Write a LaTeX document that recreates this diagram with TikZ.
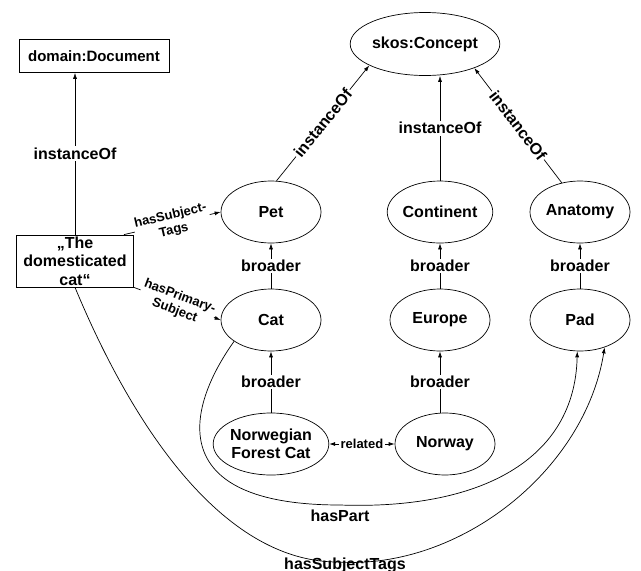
\documentclass[tikz,border=0pt]{standalone}
\usepackage{fontspec}
\setmainfont{Liberation Sans}
\usetikzlibrary{positioning, arrows.meta, shapes.geometric}

\begin{document}
\begin{tikzpicture}[x=1pt, y=1pt, node distance=108pt, >={Latex[length=6pt,width=4pt]},
    every node/.style={font=\fontsize{16}{18.5}\selectfont\bfseries},
    concept/.style={ellipse, draw, line width=0.7pt, minimum width=100pt, minimum height=62pt, inner sep=0pt, align=center},
    box/.style={rectangle, draw, line width=0.7pt, inner sep=0pt, align=center},
    rel/.style={fill=white, inner sep=1.5pt},
    small/.style={font=\fontsize{13}{15}\selectfont\bfseries},
    link/.style={->, line width=0.7pt}]
    \useasboundingbox (0,0) rectangle (641,-571);

    % concepts
    \node[concept, minimum width=124pt, minimum height=63pt] (skos) at (425,-44) {skos:Concept};
    \node[concept] (pet) at (271,-212) {Pet};
    \node[concept, right of=pet, node distance=169pt] (cont) {Continent};
    \node[concept, right of=cont, node distance=140pt] (anat) {Anatomy};
    \node[concept, below of=pet] (cat) {Cat};
    \node[concept, below of=cont] (eur) {Europe};
    \node[concept, below of=anat] (pad) {Pad};
    \node[concept, below of=cat, node distance=124pt] (nfc) {Norwegian\\Forest Cat};
    \node[concept, below of=eur, node distance=124pt, xshift=5pt] (nor) {Norway};

    % document
    \node[box, minimum width=150pt, minimum height=33pt, font=\fontsize{15}{17}\selectfont\bfseries] (doc) at (94,-56) {domain:Document};
    \node[box, minimum width=117pt, minimum height=52pt] (tb) at (75,-261) {„The\\domesticated\\cat“};

    \draw[link] (tb.north) -- (tb.north |- doc.south) node[rel, midway] {instanceOf};
    \draw[link] ([xshift=-10pt]tb.north east) -- (pet.west) node[rel, small, midway, sloped, align=center] {hasSubject-\\Tags};
    \draw[link] (tb.south east) -- (cat.west) node[rel, small, midway, sloped, align=center] {hasPrimary-\\Subject};

    \draw[link] (pet.80) -- (skos.201) node[rel, midway, sloped] {instanceOf};
    \draw[link] (cont.north) -- (cont.north |- skos.south) node[rel, midway] {instanceOf};
    \draw[link] (anat.122) -- (skos.-26) node[rel, midway, sloped] {instanceOf};

    \draw[link] (cat.north) -- (pet.south) node[rel, midway] {broader};
    \draw[link] (eur.north) -- (cont.south) node[rel, midway] {broader};
    \draw[link] (pad.north) -- (anat.south) node[rel, midway] {broader};
    \draw[link] (nfc.north) -- (cat.south) node[rel, midway] {broader};
    \draw[link] (eur.south |- nor.north) -- (eur.south) node[rel, midway] {broader};

    \draw[<->, line width=0.7pt] (nfc.east) -- (nor.west) node[rel, small, midway] {related};

    % long arcs to Pad
    \coordinate (hpbot) at (340,-505);
    \coordinate (stbot) at (338,-562);
    \draw[link] (cat.210) .. controls (185,-410) and (165,-505) .. (hpbot) node[below, yshift=-1pt] {hasPart}
        .. controls (480,-510) and (575,-460) .. (pad.265);
    \draw[link] (tb.south) .. controls (130,-420) and (220,-562) .. (stbot) node[xshift=7pt, yshift=-3pt] {hasSubjectTags}
        .. controls (460,-570) and (585,-470) .. (pad.-48);
\end{tikzpicture}
\end{document}
